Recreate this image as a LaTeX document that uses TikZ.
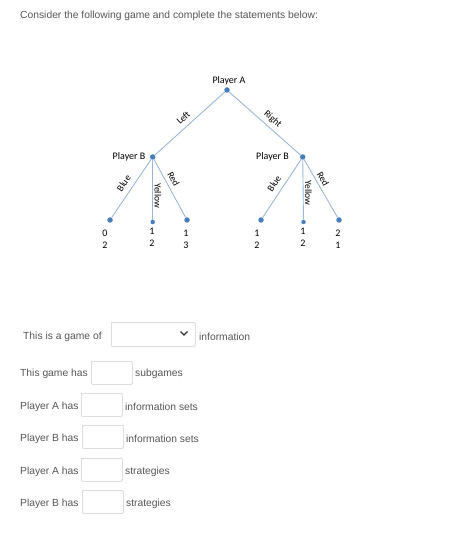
\documentclass[tikz,border=0pt]{standalone}
\usepackage{fontspec}
\setmainfont{Liberation Sans}
\newfontfamily\treefont{Carlito}
\usetikzlibrary{positioning}
\definecolor{dotblue}{HTML}{4A7EBB}
\definecolor{lineblue}{HTML}{9BB7DB}
\definecolor{formgray}{HTML}{555555}
\definecolor{boxgray}{HTML}{CCCCCC}
\tikzset{
    decision/.style = {circle, fill=dotblue, inner sep=0pt, minimum size=5.5pt},
    terminal/.style = {circle, fill=dotblue, inner sep=0pt, minimum size=5.5pt},
    move/.style = {draw=lineblue, line width=0.9pt},
    choice/.style = {font=\treefont\fontsize{9.5}{10}\selectfont, inner sep=1.5pt},
    playername/.style = {font=\treefont\fontsize{10}{11}\selectfont, inner sep=0pt},
    payoff/.style = {font=\treefont\fontsize{10}{11.5}\selectfont, align=center, inner sep=0pt},
    prompt/.style = {font=\fontsize{10.3}{12}\selectfont, text=formgray, anchor=west, inner sep=0pt, yshift=-1.5pt},
    answer/.style = {draw=boxgray, line width=0.6pt, rounded corners=1pt, inner sep=0pt, anchor=north west}
}

\begin{document}
\begin{tikzpicture}[x=1pt, y=-1pt]
    \useasboundingbox (0,0) rectangle (471,534);
    \node (intro) [prompt] at (20,14) {Consider the following game and complete the statements below:};
    % game tree
    \node (A) [decision] at (227,90) {};
    \node (BL) [decision] at (152.7,157) {};
    \node (BR) [decision] at (302.7,157) {};
    \node (nameA) [playername] at (229,81) {Player A};
    \node (nameBL) [playername] at (129,157) {Player B};
    \node (nameBR) [playername] at (272.5,157) {Player B};
    \node (LBlue) [terminal] at (110,220) {};
    \node (LYellow) [terminal, minimum size=4.5pt] at (152.7,222) {};
    \node (LRed) [terminal] at (187,220) {};
    \node (RBlue) [terminal] at (261,220) {};
    \node (RYellow) [terminal, minimum size=4.5pt] at (303.5,222) {};
    \node (RRed) [terminal] at (339,220) {};
    \draw [move] (A) -- node[choice, sloped, above=3.5pt, pos=0.51] {Left} (BL);
    \draw [move] (A) -- node[choice, sloped, above=2.5pt, pos=0.53] {Right} (BR);
    \draw [move] (BL) -- node[choice, sloped, above=4pt, pos=0.5] {Blue} (LBlue);
    \draw [move] (BL) -- node[choice, rotate=-90, anchor=south, pos=0.6] {Yellow} (LYellow);
    \draw [move] (BL) -- node[choice, sloped, above=2.5pt, pos=0.4] {Red} (LRed);
    \draw [move] (BR) -- node[choice, sloped, above=4pt, pos=0.5] {Blue} (RBlue);
    \draw [move] (BR) -- node[choice, rotate=-90, anchor=south, pos=0.55] {Yellow} (RYellow);
    \draw [move] (BR) -- node[choice, sloped, above=1.5pt, pos=0.39] {Red} (RRed);
    \node (payLBlue) [payoff] at (105,239.5) {0\\2};
    \node (payLYellow) [payoff] at (152,237.5) {1\\2};
    \node (payLRed) [payoff] at (186,239.5) {1\\3};
    \node (payRBlue) [payoff] at (257,239.5) {1\\2};
    \node (payRYellow) [payoff] at (303,237.5) {1\\2};
    \node (payRRed) [payoff] at (338,239.5) {2\\1};
    % statements
    \node (q1) [prompt] at (23,335) {This is a game of};
    \node (menu) [answer, minimum width=84pt, minimum height=24pt] at (111,322) {};
    \draw [black!80, line width=1.4pt] (180.5,331.5) -- (184,335) -- (187.5,331.5);
    \node (q1end) [prompt] at (199,335) {information};
    \node (q2) [prompt] at (20,372) {This game has};
    \node (box2) [answer, minimum width=41pt, minimum height=23pt] at (91,361) {};
    \node (q2end) [prompt] at (135,372) {subgames};
    \node (q3) [prompt] at (20,405) {Player A has};
    \node (box3) [answer, minimum width=41pt, minimum height=23pt] at (81,393) {};
    \node (q3end) [prompt] at (125,405) {information sets};
    \node (q4) [prompt] at (20,437) {Player B has};
    \node (box4) [answer, minimum width=41pt, minimum height=23pt] at (82,425) {};
    \node (q4end) [prompt] at (126,437) {information sets};
    \node (q5) [prompt] at (20,470) {Player A has};
    \node (box5) [answer, minimum width=41pt, minimum height=23pt] at (81,458) {};
    \node (q5end) [prompt] at (125,470) {strategies};
    \node (q6) [prompt] at (20,502) {Player B has};
    \node (box6) [answer, minimum width=41pt, minimum height=23pt] at (82,490) {};
    \node (q6end) [prompt] at (126,502) {strategies};
\end{tikzpicture}
\end{document}
